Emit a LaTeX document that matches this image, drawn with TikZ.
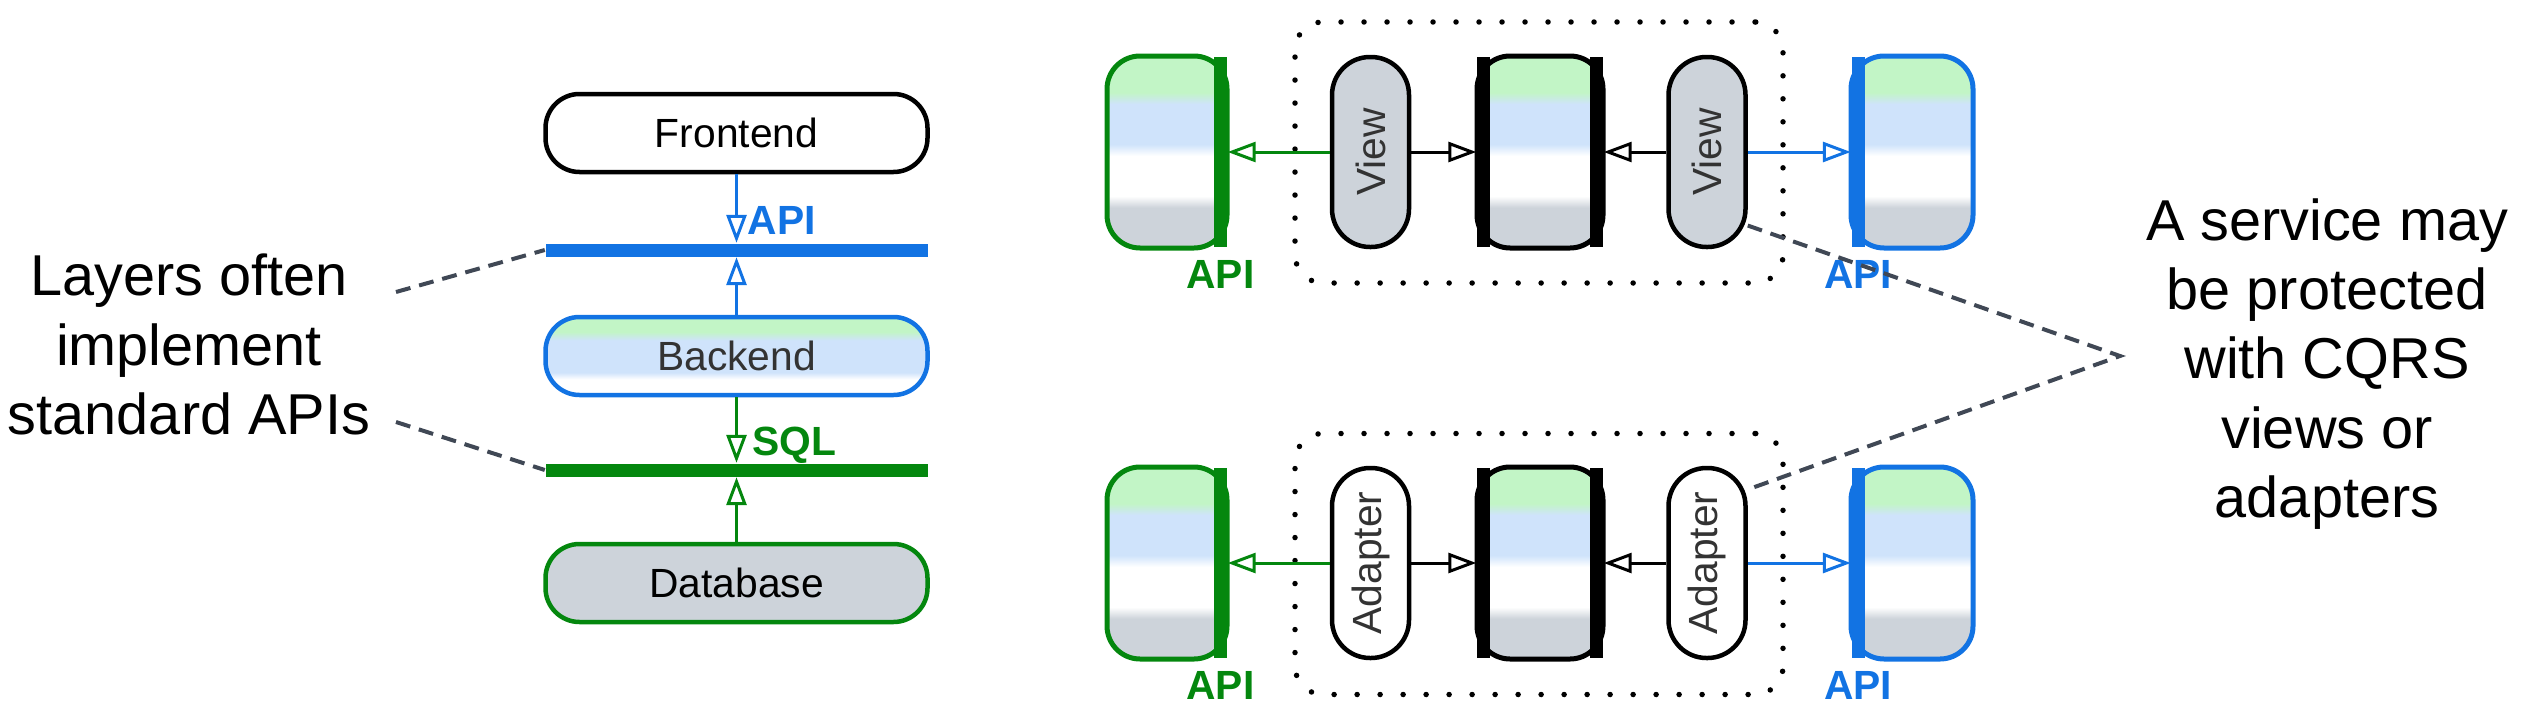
\documentclass[tikz,border=0pt]{standalone}
\usepackage{fontspec}
\setmainfont{Liberation Sans}
\usetikzlibrary{arrows.meta,positioning}
\definecolor{apiblue}{RGB}{18,115,227}
\definecolor{sqlgreen}{RGB}{4,135,14}
\definecolor{fillgray}{RGB}{205,211,218}
\definecolor{greenfill}{RGB}{194,245,198}
\definecolor{bluefill}{RGB}{207,227,251}
\definecolor{dashgray}{RGB}{64,72,85}
\definecolor{textgray}{RGB}{51,51,51}
\newcommand{\layerfont}{\fontsize{11.6}{14}\selectfont}
\newcommand{\sidefont}{\fontsize{16.4}{19.7}\selectfont}
\pgfdeclareverticalshading{svcshade}{100bp}{color(0bp)=(fillgray); color(35.5bp)=(fillgray); color(38.5bp)=(white); color(49bp)=(white); color(52bp)=(bluefill); color(62.5bp)=(bluefill); color(65.5bp)=(greenfill); color(100bp)=(greenfill)}
\pgfdeclareverticalshading{layershade}{100bp}{color(0bp)=(white); color(35bp)=(white); color(39.5bp)=(bluefill); color(60bp)=(bluefill); color(65.5bp)=(greenfill); color(100bp)=(greenfill)}
\tikzstyle{arrow} = [line width=0.03cm,-{Triangle[open,length=0.28cm,width=0.2cm]}]
\tikzstyle{layer} = [draw,line width=0.045cm,rounded corners=0.34cm,minimum width=3.82cm,minimum height=0.78cm,font=\layerfont]
\tikzstyle{svc} = [draw,line width=0.05cm,rounded corners=0.33cm,minimum height=1.92cm,inner sep=0]
\tikzstyle{ifacebar} = [inner sep=0,minimum width=0.13cm,minimum height=1.9cm]
\tikzstyle{pill} = [draw,line width=0.045cm,rounded corners=0.38cm,minimum width=0.77cm,minimum height=1.9cm,inner sep=0,font=\layerfont,text=textgray]
\tikzstyle{lbl} = [font=\layerfont\bfseries]
\tikzstyle{sidenote} = [align=center,font=\sidefont]
\tikzstyle{guideline} = [dashgray,line width=0.04cm,dash pattern=on 0.15cm off 0.09cm]
\tikzstyle{fence} = [draw,line width=0.055cm,line cap=round,dash pattern=on 0pt off 0.23cm,rounded corners=0.28cm,minimum width=4.88cm,minimum height=2.61cm]
\begin{document}
\begin{tikzpicture}
\useasboundingbox (0,0) rectangle (25.26,7.18);

% Layer stack
\node[layer, fill=white] (front) at (7.365,5.85) {Frontend};
\node[ifacebar, fill=apiblue, minimum width=3.82cm, minimum height=0.13cm] (apibar) at (7.365,4.68) {};
\node[layer, draw=apiblue, shading=layershade, text=textgray] (back) at (7.365,3.62) {Backend};
\node[ifacebar, fill=sqlgreen, minimum width=3.82cm, minimum height=0.13cm] (sqlbar) at (7.365,2.48) {};
\node[layer, draw=sqlgreen, fill=fillgray] (db) at (7.365,1.35) {Database};
\draw[arrow, apiblue] (front) -- (apibar);
\draw[arrow, apiblue] (back) -- (apibar);
\draw[arrow, sqlgreen] (back) -- (sqlbar);
\draw[arrow, sqlgreen] (db) -- (sqlbar);
\node[lbl, text=apiblue, anchor=base west, inner sep=0] (apilbl) at (7.47,4.84) {API};
\node[lbl, text=sqlgreen, anchor=base west, inner sep=0] (sqllbl) at (7.52,2.63) {SQL};

% Left note
\node[sidenote] (layersnote) at (1.89,3.735) {Layers often\\implement\\standard APIs};
\coordinate (layersup) at (3.96,4.26);
\coordinate (layersdown) at (3.96,2.96);

% CQRS row
\node[fence] (cqrs) at (15.39,5.655) {};
\node[svc, draw=sqlgreen, shading=svcshade, minimum width=1.2cm] (gsvc1) at (11.67,5.66) {};
\node[ifacebar, fill=sqlgreen] (gbar1) at (12.205,5.66) {};
\node[svc, shading=svcshade, minimum width=1.26cm] (cbox1) at (15.4,5.66) {};
\node[ifacebar, fill=black] (cbarl1) at (14.835,5.66) {};
\node[ifacebar, fill=black] (cbarr1) at (15.965,5.66) {};
\node[svc, draw=apiblue, shading=svcshade, minimum width=1.22cm] (bsvc1) at (19.12,5.66) {};
\node[ifacebar, fill=apiblue] (bbar1) at (18.58,5.66) {};
\node[pill, fill=fillgray] (view1) at (13.705,5.66) {\rotatebox{90}{View}};
\node[pill, fill=fillgray] (view2) at (17.07,5.66) {\rotatebox{90}{View}};
\draw[arrow, sqlgreen] (view1) -- (gbar1);
\draw[arrow] (view1) -- (cbarl1);
\draw[arrow] (view2) -- (cbarr1);
\draw[arrow, apiblue] (view2) -- (bbar1);
\node[lbl, text=sqlgreen, below=0cm of gbar1] (gapi1) {API};
\node[lbl, text=apiblue, below=0cm of bbar1] (bapi1) {API};

% Adapter row
\node[fence] (adapt) at (15.39,1.54) {};
\node[svc, draw=sqlgreen, shading=svcshade, minimum width=1.2cm] (gsvc2) at (11.67,1.55) {};
\node[ifacebar, fill=sqlgreen] (gbar2) at (12.205,1.55) {};
\node[svc, shading=svcshade, minimum width=1.26cm] (cbox2) at (15.4,1.55) {};
\node[ifacebar, fill=black] (cbarl2) at (14.835,1.55) {};
\node[ifacebar, fill=black] (cbarr2) at (15.965,1.55) {};
\node[svc, draw=apiblue, shading=svcshade, minimum width=1.22cm] (bsvc2) at (19.12,1.55) {};
\node[ifacebar, fill=apiblue] (bbar2) at (18.58,1.55) {};
\node[pill, fill=white] (adapt1) at (13.705,1.55) {\rotatebox{90}{Adapter}};
\node[pill, fill=white] (adapt2) at (17.07,1.55) {\rotatebox{90}{Adapter}};
\draw[arrow, sqlgreen] (adapt1) -- (gbar2);
\draw[arrow] (adapt1) -- (cbarl2);
\draw[arrow] (adapt2) -- (cbarr2);
\draw[arrow, apiblue] (adapt2) -- (bbar2);
\node[lbl, text=sqlgreen, below=0cm of gbar2] (gapi2) {API};
\node[lbl, text=apiblue, below=0cm of bbar2] (bapi2) {API};

% Right note
\node[sidenote] (cqrsnote) at (23.27,3.54) {A service may\\be protected\\with CQRS\\views or\\adapters};
\coordinate (cqrsjoin) at (21.2,3.62);

% Dashed pointers
\draw[guideline] (layersup) -- (apibar.west);
\draw[guideline] (layersdown) -- (sqlbar.west);
\draw[guideline] (view2.-61) -- (cqrsjoin) -- (adapt2.61);
\end{tikzpicture}
\end{document}
